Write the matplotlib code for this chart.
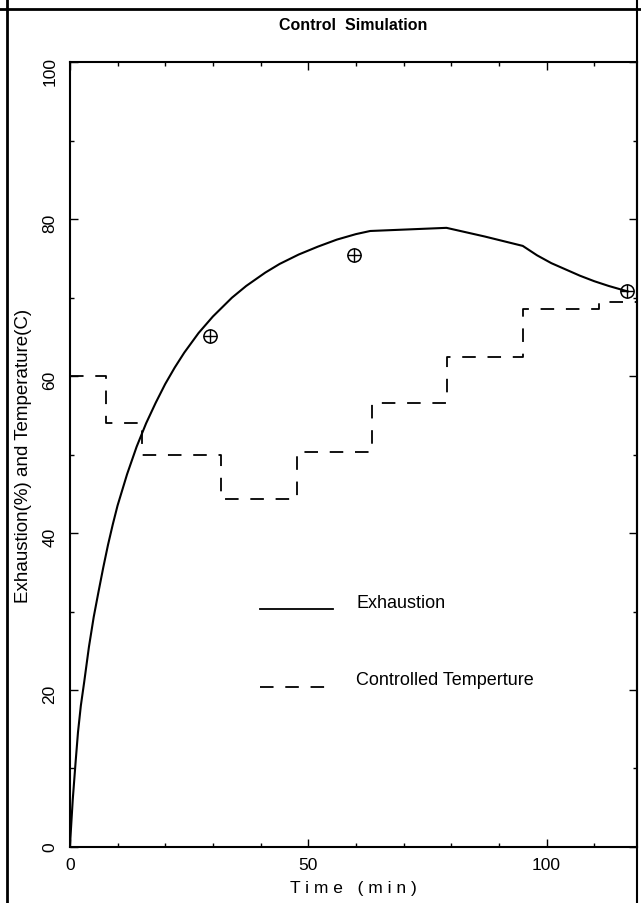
import numpy as np
import matplotlib
matplotlib.use('Agg')
import matplotlib.pyplot as plt
from matplotlib.lines import Line2D
from matplotlib.ticker import MultipleLocator

# exhaustion curve (%)
time_exh = [0, 0.6, 1.2, 1.7, 2.3, 3, 4, 5, 6, 7, 8, 9, 10, 12, 14, 16, 18,
            20, 22, 24, 27, 30, 34, 37, 41, 44, 48, 52, 56, 60, 63, 71, 79,
            87, 95, 98, 101, 104, 107, 110, 113, 117]
exhaustion = [0, 6, 10.8, 14.6, 18, 21, 25.5, 29.3, 32.5, 35.6, 38.5, 41.1,
              43.5, 47.5, 51, 54, 56.6, 59, 61.1, 63, 65.5, 67.6, 70.0, 71.5,
              73.2, 74.3, 75.5, 76.5, 77.4, 78.1, 78.5, 78.7, 78.9, 77.8,
              76.6, 75.4, 74.4, 73.6, 72.8, 72.1, 71.5, 70.8]

# controlled temperature (C), step profile
step_time = [0, 7.5, 15.2, 31.6, 47.6, 63.4, 79.1, 95, 111, 119]
temperature = [60, 54, 50, 44.3, 50.3, 56.6, 62.4, 68.5, 69.4, 69.4]

# measured points
meas_time = [29.5, 59.5, 116.8]
meas_exh = [65.1, 75.4, 70.8]

plt.rcParams['font.family'] = ['Liberation Sans', 'DejaVu Sans']

fig = plt.figure(figsize=(6.41, 9.04), dpi=100)
ax = fig.add_axes([0.109, 0.062, 0.885, 0.868])

dash = (0, (7.5, 6.5))
ax.plot(time_exh, exhaustion, color='black', lw=1.5)
ax.plot(step_time, temperature, color='black', lw=1.3,
        drawstyle='steps-post', ls=dash)
ax.plot(meas_time, meas_exh, ls='none', marker='o', ms=9.5, mfc='none',
        mec='black', mew=1.1)
ax.plot(meas_time, meas_exh, ls='none', marker='+', ms=9.5, mec='black',
        mew=1.0)

ax.set_xlim(0, 119)
ax.set_ylim(0, 100)
ax.xaxis.set_major_locator(MultipleLocator(50))
ax.xaxis.set_minor_locator(MultipleLocator(10))
ax.yaxis.set_major_locator(MultipleLocator(20))
ax.yaxis.set_minor_locator(MultipleLocator(10))
ax.tick_params(which='both', direction='in', top=True, right=True,
               width=1.0, labelsize=12.5)
ax.tick_params(which='major', length=6)
ax.tick_params(which='minor', length=3)
ax.tick_params(axis='y', labelrotation=90, pad=9)
ax.tick_params(axis='x', pad=7)
for s in ax.spines.values():
    s.set_linewidth(1.5)

ax.set_xlabel('T i m e   ( m i n )', fontsize=12.5)
ax.xaxis.set_label_coords(0.5, -0.042)
ax.set_ylabel('Exhaustion(%) and Temperature(C)', fontsize=13.5)
ax.yaxis.set_label_coords(-0.066, 0.5)

# hand-placed key, like the original
ax.plot([0.336, 0.463], [0.303, 0.303], color='black', lw=1.3,
        transform=ax.transAxes)
ax.plot([0.336, 0.455], [0.204, 0.204], color='black', lw=1.3,
        ls=dash, transform=ax.transAxes)
ax.text(0.505, 0.312, 'Exhaustion', transform=ax.transAxes, fontsize=13,
        va='center')
ax.text(0.505, 0.213, 'Controlled Temperture', transform=ax.transAxes,
        fontsize=13, va='center')

fig.text(0.551, 0.972, 'Control  Simulation', ha='center', va='center',
         fontsize=11.5, fontweight='bold')

# frame around the whole figure
fig.add_artist(Line2D([0, 1], [1 - 10 / 904] * 2, color='black', lw=2,
                      transform=fig.transFigure))
fig.add_artist(Line2D([7 / 641] * 2, [0, 1], color='black', lw=2,
                      transform=fig.transFigure))
fig.add_artist(Line2D([637 / 641] * 2, [0, 1], color='black', lw=1.5,
                      transform=fig.transFigure))

fig.savefig('out.png', dpi=100)
